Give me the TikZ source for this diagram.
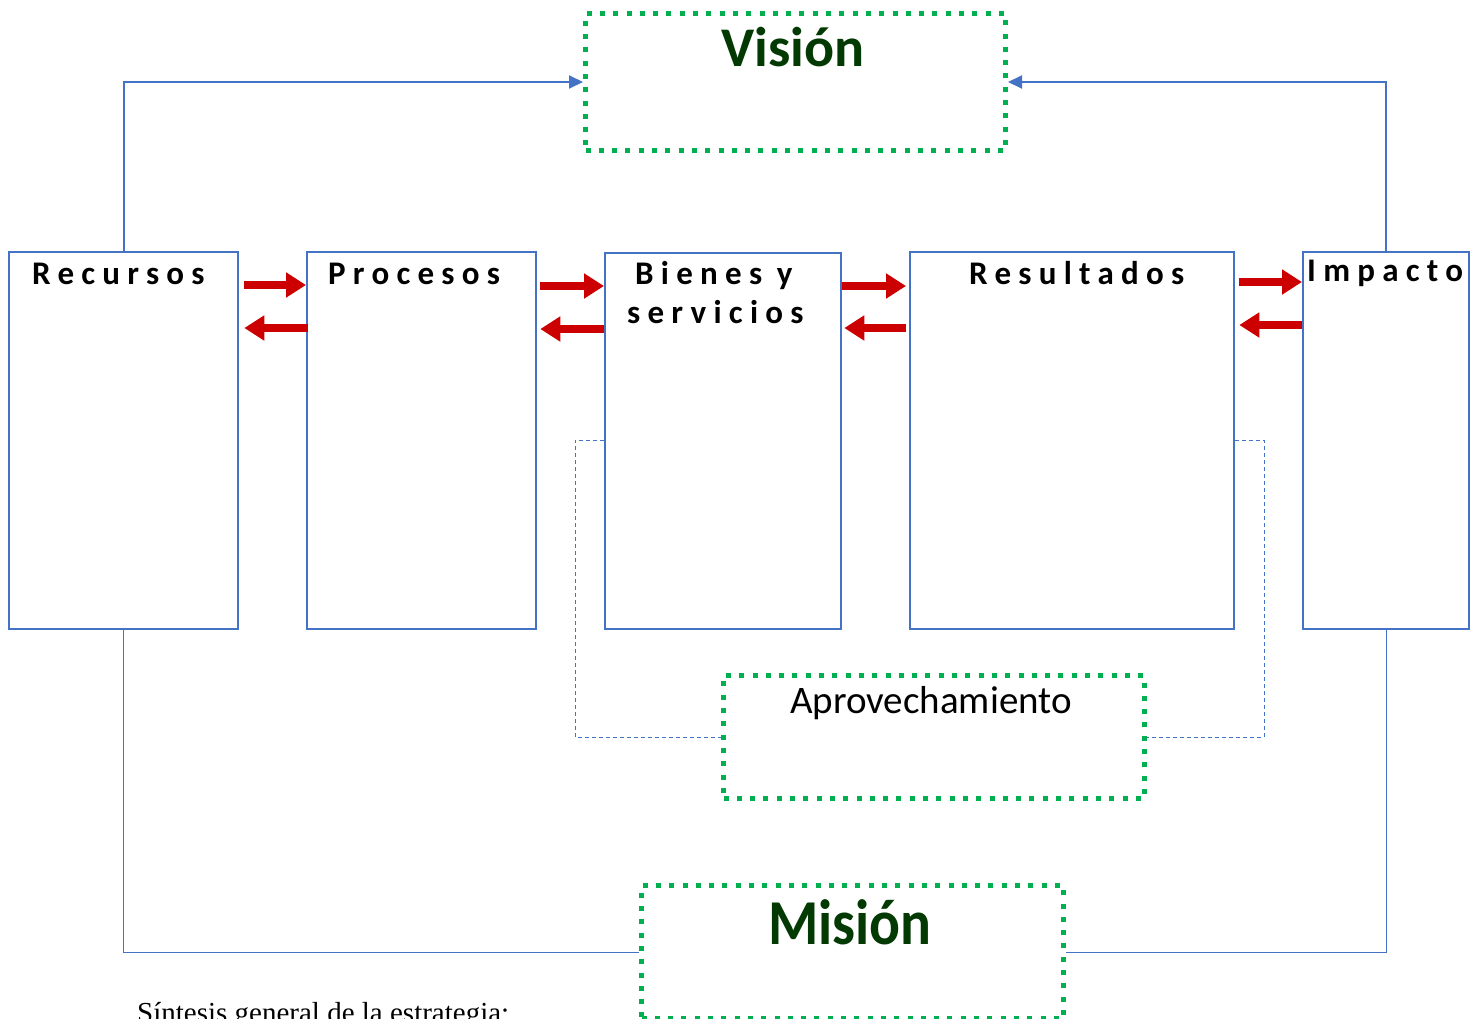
\documentclass[tikz,border=0pt]{standalone}
\usepackage{fontspec}
\setmainfont{Carlito}
\newfontfamily\spacedfont[LetterSpace=22]{Carlito}
\newfontfamily\serifont{Liberation Serif}
\usetikzlibrary{arrows.meta,calc}
\definecolor{bblue}{HTML}{4472C4}
\definecolor{ggreen}{HTML}{00B050}
\definecolor{dgreen}{HTML}{033A03}
\definecolor{rred}{HTML}{CC0000}
\tikzset{
  stagebox/.style={draw=bblue, line width=2.3pt, anchor=north west, inner sep=0pt, fill=white},
  dotbox/.style={draw=ggreen, line width=5pt, dash pattern=on 5pt off 8.3pt, anchor=north west, inner sep=0pt},
  lbl/.style={anchor=base west, inner sep=0pt, font=\spacedfont\bfseries\fontsize{33}{38}\selectfont},
  redarr/.style={draw=rred, line width=8pt, -{Triangle[length=20pt,width=24pt]}},
  bline/.style={draw=bblue, line width=2pt},
  thinline/.style={draw=bblue, line width=1pt},
  dashline/.style={draw=bblue, line width=1pt, dash pattern=on 4pt off 3pt},
}
\begin{document}
\begin{tikzpicture}[x=1pt,y=-1pt]
\useasboundingbox (0,0) rectangle (1477,1018);
% boxes
\node[stagebox, minimum width=229pt, minimum height=377pt] (rec) at (8,251) {};
\node[stagebox, minimum width=229pt, minimum height=377pt] (proc) at (306,251) {};
\node[stagebox, minimum width=236pt, minimum height=376pt] (bien) at (604,252) {};
\node[stagebox, minimum width=324pt, minimum height=377pt] (res) at (909,251) {};
\node[stagebox, minimum width=166pt, minimum height=377pt] (imp) at (1302,251) {};
% dotted boxes
\node[dotbox, minimum width=420pt, minimum height=137pt] (vis) at (583,11) {};
\node[dotbox, minimum width=421pt, minimum height=123pt] (apr) at (721,673) {};
\node[dotbox, minimum width=422pt, minimum height=133pt] (mis) at (639,883) {};
% labels
\node[lbl] (trec) at (32,284) {Recursos};
\node[lbl] (tproc) at (328,284) {Procesos};
\node[lbl] (tbien1) at (635,284) {Bienes y};
\node[lbl] (tbien2) at (627,323) {servicios};
\node[lbl] (tres) at (969,284) {Resultados};
\node[lbl] (timp) at (1307,281) {Impacto};
\node[anchor=base, inner sep=0pt, text=dgreen, font=\bfseries\fontsize{56}{60}\selectfont] (tvis) at (793,66) {Visión};
\node[anchor=base, inner sep=0pt, text=dgreen, font=\bfseries\fontsize{64}{66}\selectfont] (tmis) at (850,944) {\scalebox{0.9}[1]{Misión}};
\node[anchor=base, inner sep=0pt, font=\fontsize{39}{44}\selectfont] (tapr) at (931,713) {Aprovechamiento};
\node[anchor=base west, inner sep=0pt, font=\serifont\fontsize{29}{32}\selectfont] (tsin) at (137,1022) {Síntesis general de la estrategia:};
% blue connectors
\draw[bline, -{Triangle[length=14pt,width=13pt]}] (rec.north) |- (vis.west);
\draw[bline, -{Triangle[length=14pt,width=13pt]}] (imp.north) |- (vis.east);
\draw[thinline] (rec.south) |- (mis.west);
\draw[thinline] (imp.south) |- (mis.east);
\draw[dashline] ($(bien.north west)+(0,188)$) -- ++(-29,0) |- (apr.west);
\draw[dashline] ($(res.north east)+(0,189)$) -- ++(29,0) |- (apr.east);
% red arrows
\draw[redarr] ($(rec.north east)+(5,34)$) -- ($(proc.north west)+(0,34)$);
\draw[redarr] ($(proc.north west)+(2,77)$) -- ($(rec.north east)+(5,77)$);
\draw[redarr] ($(proc.north east)+(3,35)$) -- ($(bien.north west)+(0,34)$);
\draw[redarr] ($(bien.north west)+(0,77)$) -- ($(proc.north east)+(3,78)$);
\draw[redarr] ($(bien.north east)+(0,34)$) -- ($(res.north west)+(-3,35)$);
\draw[redarr] ($(res.north west)+(-3,77)$) -- ($(bien.north east)+(2,76)$);
\draw[redarr] ($(res.north east)+(4,31)$) -- ($(imp.north west)+(0,31)$);
\draw[redarr] ($(imp.north west)+(0,74)$) -- ($(res.north east)+(4,74)$);
\end{tikzpicture}
\end{document}
